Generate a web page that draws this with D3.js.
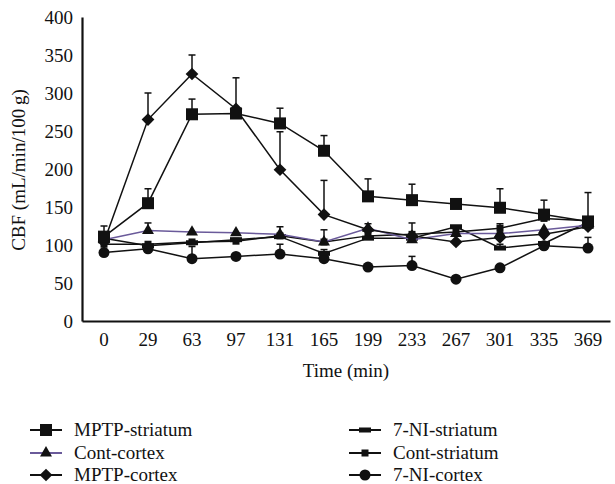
<!DOCTYPE html>
<html><head><meta charset="utf-8">
<script src="https://cdn.jsdelivr.net/npm/d3@7"></script>
<style>body{margin:0;background:#fff}svg{display:block}text{font-family:"Liberation Serif","Times New Roman",serif;fill:#111}</style>
</head><body><div id="chart"></div>
<script>
const timeLabels = ["0","29","63","97","131","165","199","233","267","301","335","369"];
const yTicks = [0,50,100,150,200,250,300,350,400];
const mptpStriatum    = [111,155,272,273,260,224,164,159,154,149,140,131];
const mptpStriatumErr = [14,19,20,0,20,20,23,21,0,25,19,38];
const mptpCortex      = [104,265,325,279,199,140,120,112,104,110,114,124];
const mptpCortexErr   = [0,35,25,41,50,45,8,0,0,0,0,0];
const contCortex      = [107,119,117,116,114,104,122,107,115,115,120,126];
const contCortexErr   = [0,10,0,0,0,16,0,22,0,0,0,0];
const contStriatum    = [101,101,104,105,112,104,112,114,117,122,135,132];
const contStriatumErr = [0,0,0,0,12,0,0,0,0,6,0,0];
const niStriatum      = [109,99,103,107,111,89,109,109,124,96,102,130];
const niStriatumErr   = [0,0,0,0,0,5,0,0,0,5,0,0];
const niCortex        = [90,95,82,85,88,82,71,73,55,70,99,96];
const niCortexErr     = [0,0,16,0,13,0,0,12,0,0,0,14];

const series = [
  {name:"7-NI-cortex", values:niCortex, err:niCortexErr, marker:"circle", color:"#111"},
  {name:"Cont-striatum", values:contStriatum, err:contStriatumErr, marker:"smallsquare", color:"#111"},
  {name:"7-NI-striatum", values:niStriatum, err:niStriatumErr, marker:"dash", color:"#111"},
  {name:"Cont-cortex", values:contCortex, err:contCortexErr, marker:"triangle", color:"#6a5a9a"},
  {name:"MPTP-cortex", values:mptpCortex, err:mptpCortexErr, marker:"diamond", color:"#111"},
  {name:"MPTP-striatum", values:mptpStriatum, err:mptpStriatumErr, marker:"square", color:"#111"}
];
const legendOrder = [
  ["MPTP-striatum","7-NI-striatum"],
  ["Cont-cortex","Cont-striatum"],
  ["MPTP-cortex","7-NI-cortex"]
];

const W=615,H=484;
const svg=d3.select("#chart").append("svg").attr("width",W).attr("height",H);
const x=d3.scaleBand().domain(timeLabels).range([82,610]);
const y=d3.scaleLinear().domain([0,400]).range([321,17]);
const cx=d=>x(d)+x.bandwidth()/2;
const FS=19;

function drawMarker(g,type,px,py){
  if(type==="square") g.append("rect").attr("x",px-6).attr("y",py-6).attr("width",12).attr("height",12).attr("fill","#111");
  else if(type==="smallsquare") g.append("rect").attr("x",px-3.5).attr("y",py-3.5).attr("width",7).attr("height",7).attr("fill","#111");
  else if(type==="dash") g.append("rect").attr("x",px-6).attr("y",py-2.5).attr("width",12).attr("height",5).attr("fill","#111");
  else if(type==="circle") g.append("circle").attr("cx",px).attr("cy",py).attr("r",5.5).attr("fill","#111");
  else if(type==="triangle") g.append("path").attr("d",d3.symbol(d3.symbolTriangle,62)()).attr("transform",`translate(${px},${py})`).attr("fill","#111");
  else if(type==="diamond") g.append("rect").attr("x",-4.5).attr("y",-4.5).attr("width",9).attr("height",9).attr("transform",`translate(${px},${py}) rotate(45)`).attr("fill","#111");
}

const yAxis=svg.append("g").attr("transform","translate(82,0)").call(d3.axisLeft(y).tickValues(yTicks).tickSize(0).tickPadding(9));
yAxis.select(".domain").attr("stroke","#111").attr("stroke-width",2.2);
yAxis.selectAll("text").attr("font-size",FS).style("font-family","Liberation Serif");
const xAxis=svg.append("g").attr("transform","translate(0,321)").call(d3.axisBottom(x).tickSize(0).tickPadding(12));
xAxis.select(".domain").attr("stroke","#111").attr("stroke-width",2.2);
xAxis.selectAll("text").attr("font-size",FS).style("font-family","Liberation Serif");

svg.append("text").attr("x",346).attr("y",377).attr("text-anchor","middle").attr("font-size",FS).text("Time (min)");
svg.append("text").attr("transform","translate(25,170) rotate(-90)").attr("text-anchor","middle").attr("font-size",FS).text("CBF (mL/min/100\u2009g)");

const plot=svg.append("g");
series.forEach(s=>{
  const g=plot.append("g");
  s.values.forEach((v,i)=>{
    const e=s.err[i]; if(!e) return;
    const px=cx(timeLabels[i]);
    g.append("line").attr("x1",px).attr("x2",px).attr("y1",y(v)).attr("y2",y(v+e)).attr("stroke","#111").attr("stroke-width",1.5);
    g.append("line").attr("x1",px-3.5).attr("x2",px+3.5).attr("y1",y(v+e)).attr("y2",y(v+e)).attr("stroke","#111").attr("stroke-width",1.5);
  });
  const line=d3.line().x((d,i)=>cx(timeLabels[i])).y(d=>y(d));
  g.append("path").datum(s.values).attr("d",line).attr("fill","none").attr("stroke",s.color).attr("stroke-width",1.5);
  s.values.forEach((v,i)=>drawMarker(g,s.marker,cx(timeLabels[i]),y(v)));
});

const byName={}; series.forEach(s=>byName[s.name]=s);
const rowY=[430,453,475], colX=[30,349];
legendOrder.forEach((row,ri)=>row.forEach((nm,ci)=>{
  const s=byName[nm]; const g=svg.append("g");
  const x0=colX[ci], yy=rowY[ri];
  g.append("line").attr("x1",x0).attr("x2",x0+32).attr("y1",yy).attr("y2",yy).attr("stroke",s.color).attr("stroke-width",2);
  drawMarker(g,s.marker,x0+16,yy);
  g.append("text").attr("x",x0+44).attr("y",yy+6).attr("font-size",FS).text(nm);
}));
</script></body></html>
